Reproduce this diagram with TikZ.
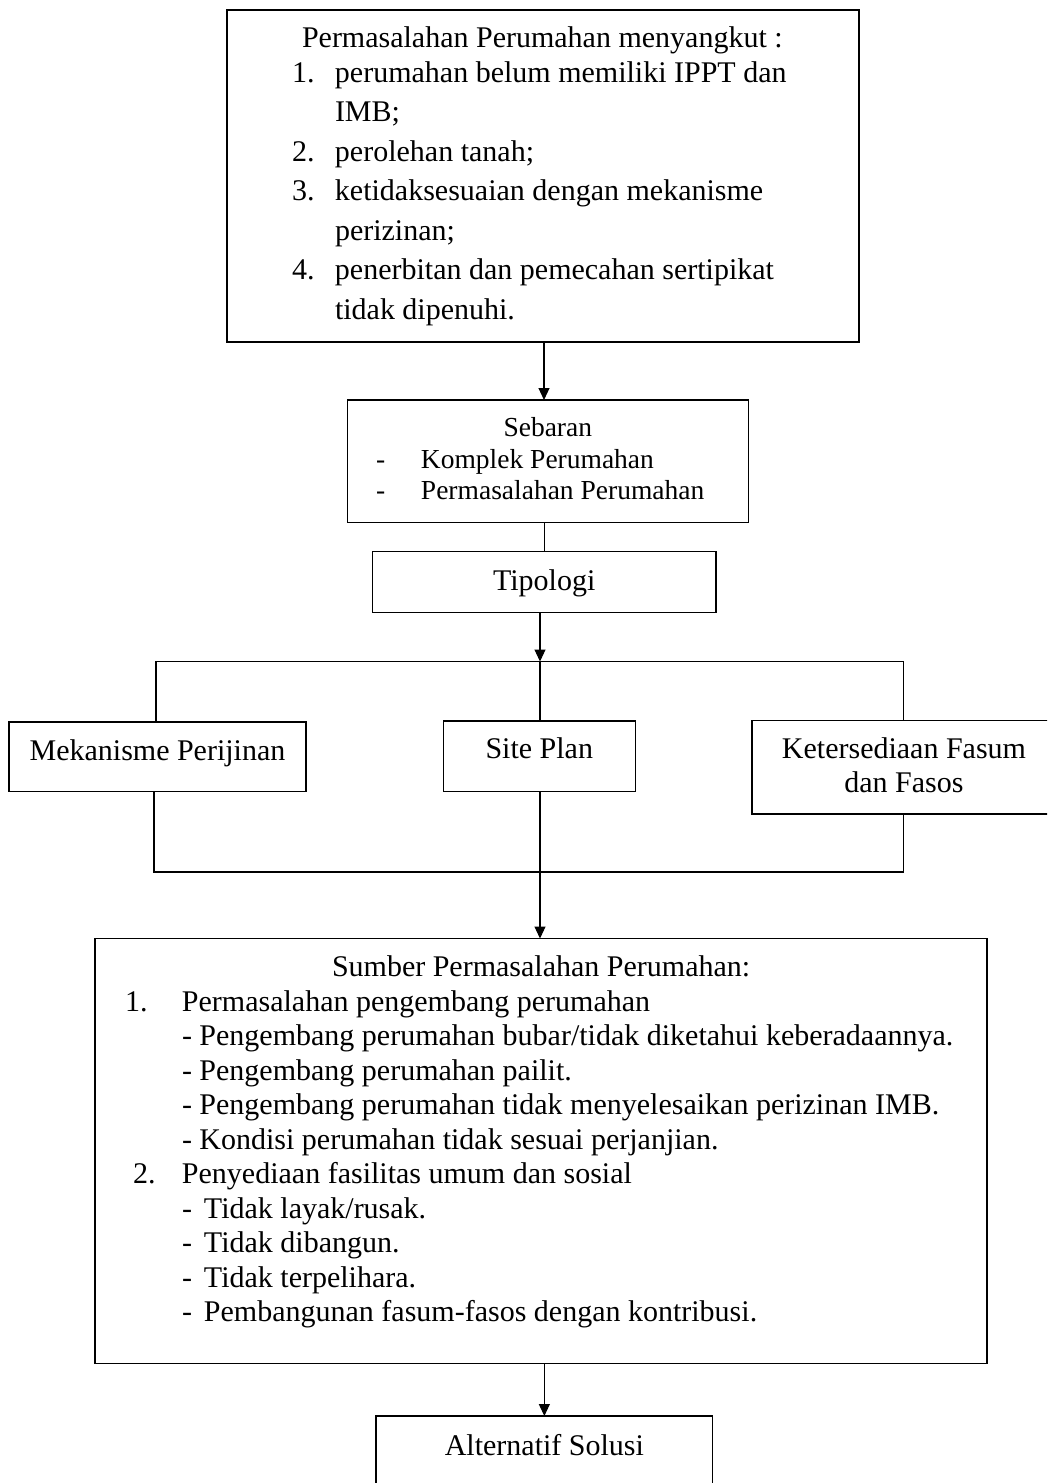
\documentclass[tikz,border=0pt]{standalone}
\usepackage{fontspec}
\setmainfont{Liberation Serif}
\usetikzlibrary{arrows.meta}

\begin{document}
\begin{tikzpicture}[x=1pt, y=-1pt,
        box/.style={draw, line width=1.4pt, inner sep=0pt, outer sep=0pt, anchor=north west, align=flush left,
            execute at begin node={\fontsize{30}{34.5}\selectfont}},
        mid/.style={align=flush center},
        link/.style={line width=1.1pt},
        arr/.style={link, -{Triangle[width=11pt, length=12pt]}}]
    \useasboundingbox (0, 0) rectangle (1047, 1483);
    \clip (0, 0) rectangle (1047, 1483);

    \node[box, text width=632pt, text height=37.5pt, text depth=294.5pt,
        execute at begin node={\fontsize{30}{39.5}\selectfont}] (problem) at (227, 10) {%
        \hspace*{75pt}Permasalahan Perumahan menyangkut :\\[-5pt]
        \hspace*{65pt}\makebox[43pt][l]{1.}perumahan belum memiliki IPPT dan\\
        \hspace*{108pt}IMB;\\
        \hspace*{65pt}\makebox[43pt][l]{2.}perolehan tanah;\\
        \hspace*{65pt}\makebox[43pt][l]{3.}ketidaksesuaian dengan mekanisme\\
        \hspace*{108pt}perizinan;\\
        \hspace*{65pt}\makebox[43pt][l]{4.}penerbitan dan pemecahan sertipikat\\
        \hspace*{108pt}tidak dipenuhi.};

    \node[box, text width=401pt, text height=36.5pt, text depth=86pt,
        execute at begin node={\fontsize{27.5}{31.6}\selectfont}] (sebaran) at (347.5, 400) {%
        \hspace*{156pt}Sebaran\\
        \hspace*{28.5pt}\makebox[45pt][l]{-}Komplek Perumahan\\
        \hspace*{28.5pt}\makebox[45pt][l]{-}Permasalahan Perumahan};

    \node[box, mid, text width=343.5pt, text height=38.5pt, text depth=22.5pt] (tipologi) at (372.5, 551.5) {Tipologi};

    \node[box, mid, text width=297pt, text height=38pt, text depth=31.5pt] (mekanisme) at (9, 722) {Mekanisme Perijinan};
    \node[box, mid, text width=192pt, text height=37pt, text depth=33.5pt] (siteplan) at (443.3, 721) {Site Plan};
    \node[box, mid, text width=304pt, text height=38pt, text depth=55.5pt,
        execute at begin node={\fontsize{30}{34}\selectfont}] (fasum) at (752, 720.5) {Ketersediaan Fasum\\dan Fasos};

    \node[box, text width=892pt, text height=38pt, text depth=387pt] (sumber) at (95, 938.5) {%
        \hspace*{237pt}Sumber Permasalahan Perumahan:\\
        \hspace*{30pt}\makebox[57pt][l]{1.}Permasalahan pengembang perumahan\\
        \hspace*{87pt}- Pengembang perumahan bubar/tidak diketahui keberadaannya.\\
        \hspace*{87pt}- Pengembang perumahan pailit.\\
        \hspace*{87pt}- Pengembang perumahan tidak menyelesaikan perizinan IMB.\\
        \hspace*{87pt}- Kondisi perumahan tidak sesuai perjanjian.\\
        \hspace*{38pt}\makebox[49pt][l]{2.}Penyediaan fasilitas umum dan sosial\\
        \hspace*{87pt}\makebox[22pt][l]{-}Tidak layak/rusak.\\
        \hspace*{87pt}\makebox[22pt][l]{-}Tidak dibangun.\\
        \hspace*{87pt}\makebox[22pt][l]{-}Tidak terpelihara.\\
        \hspace*{87pt}\makebox[22pt][l]{-}Pembangunan fasum-fasos dengan kontribusi.};

    \node[box, mid, text width=336.7pt, text height=39pt, text depth=80pt] (solusi) at (376, 1416) {Alternatif Solusi};

    \coordinate (split) at (540, 661.5);
    \coordinate (splitl) at (156, 661.5);
    \coordinate (splitr) at (903.5, 661.5);
    \coordinate (joinl) at (154, 872);
    \coordinate (joinr) at (903.5, 872);

    \draw[arr] (problem.south -| split) ++(4, 0) coordinate (p1) -- (p1 |- sebaran.north);
    \draw[link] (tipologi.north |- sebaran.south) -- (tipologi.north);
    \draw[arr] (tipologi.south -| split) -- (split);

    \draw[link] (mekanisme.north -| splitl) -- (splitl) -- (splitr) -- (fasum.north -| splitr);
    \draw[link] (split) -- (siteplan.north -| split);

    \draw[link] (mekanisme.south -| joinl) -- (joinl) -- (joinr) -- (fasum.south -| joinr);
    \draw[arr] (siteplan.south -| split) -- (sumber.north -| split);
    \draw[arr] (solusi.north |- sumber.south) -- (solusi.north);
\end{tikzpicture}
\end{document}
